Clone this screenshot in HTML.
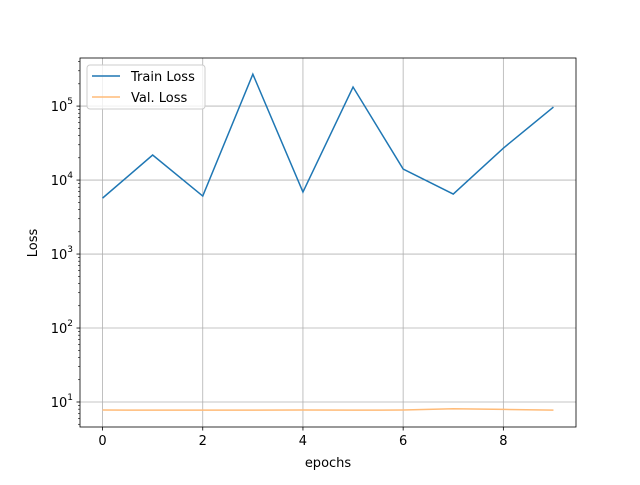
<!DOCTYPE html>
<html><head><meta charset="utf-8"><style>
body{margin:0;background:#fff;}
svg text{font-family:"DejaVu Sans","Liberation Sans",sans-serif;fill:#000;}
</style></head><body>
<svg id="chart" width="640" height="480" xmlns="http://www.w3.org/2000/svg">
<rect width="640" height="480" fill="#fff"/>
<g id="grid"></g>
<g id="series"></g>
<rect x="80" y="58" width="496" height="369" fill="none" stroke="#000" stroke-width="0.8"/>
<g id="ticks"></g>
<text x="328" y="467" font-size="13" text-anchor="middle">epochs</text>
<text transform="translate(37,243) rotate(-90)" font-size="13" text-anchor="middle">Loss</text>
<g>
<rect x="87" y="65" width="118" height="44" rx="3" fill="#fff" fill-opacity="0.8" stroke="#ccc"/>
<line x1="92" y1="76" x2="120" y2="76" stroke="#1f77b4" stroke-width="1.5"/>
<text x="131" y="81" font-size="13">Train Loss</text>
<line x1="92" y1="97" x2="120" y2="97" stroke="#ffbb78" stroke-width="1.5"/>
<text x="131" y="102" font-size="13">Val. Loss</text>
</g>
</svg>
<script>
const epochs=[0,1,2,3,4,5,6,7,8,9];
const trainLoss=[5700,21800,6080,270000,6880,181000,14100,6470,27000,97000];
const valLoss=[7.8,7.75,7.75,7.75,7.8,7.75,7.8,8.1,7.95,7.75];
const xTicks=[0,2,4,6,8];
const yTickExps=[1,2,3,4,5];
const NS="http://www.w3.org/2000/svg";
const L=80,R=576,T=58,B=427;
const xmin=-0.45,xmax=9.45,lmin=0.662,lmax=5.65;
const xs=v=>L+(v-xmin)/(xmax-xmin)*(R-L);
const ys=v=>B-(Math.log10(v)-lmin)/(lmax-lmin)*(B-T);
function mk(tag,attrs,parent){const e=document.createElementNS(NS,tag);for(const k in attrs)e.setAttribute(k,attrs[k]);parent.appendChild(e);return e;}
const grid=document.getElementById('grid'),ticks=document.getElementById('ticks'),series=document.getElementById('series');
xTicks.forEach(t=>{const x=xs(t);
 const g=mk('line',{x1:x,x2:x,y1:T,y2:B,stroke:'#b0b0b0','stroke-width':0.8},grid);
 
 
 mk('line',{x1:x,x2:x,y1:B,y2:B+3.5,stroke:'#000','stroke-width':0.8},ticks);
 const tx=mk('text',{x:x,y:B+18,'font-size':13,'text-anchor':'middle'},ticks);tx.textContent=t;
 
 
});
yTickExps.forEach(e=>{const y=ys(Math.pow(10,e));
 const g=mk('line',{x1:L,x2:R,y1:y,y2:y,stroke:'#b0b0b0','stroke-width':0.8},grid);
 
 
 mk('line',{x1:L-3.5,x2:L,y1:y,y2:y,stroke:'#000','stroke-width':0.8},ticks);
 const tx=mk('text',{x:L-7,y:y+5,'font-size':13,'text-anchor':'end'},ticks);
 tx.innerHTML='10<tspan dy="-7" font-size="9">'+e+'</tspan>';
 
 
 for(let m=2;m<=9;m++){const v=m*Math.pow(10,e-1);const yy=ys(v);if(yy<T||yy>B)continue;
  mk('line',{x1:L-2,x2:L,y1:yy,y2:yy,stroke:'#000','stroke-width':0.6},ticks);}
});
for(let m=2;m<=9;m++){const yy=ys(m*1e5);if(yy>=T)mk('line',{x1:L-2,x2:L,y1:yy,y2:yy,stroke:'#000','stroke-width':0.6},ticks);}
const tp=mk('polyline',{points:epochs.map((e,i)=>xs(e)+','+ys(trainLoss[i])).join(' '),fill:'none',stroke:'#1f77b4','stroke-width':1.5},series);


const vp=mk('polyline',{points:epochs.map((e,i)=>xs(e)+','+ys(valLoss[i])).join(' '),fill:'none',stroke:'#ffbb78','stroke-width':1.5},series);


</script>
</body></html>
